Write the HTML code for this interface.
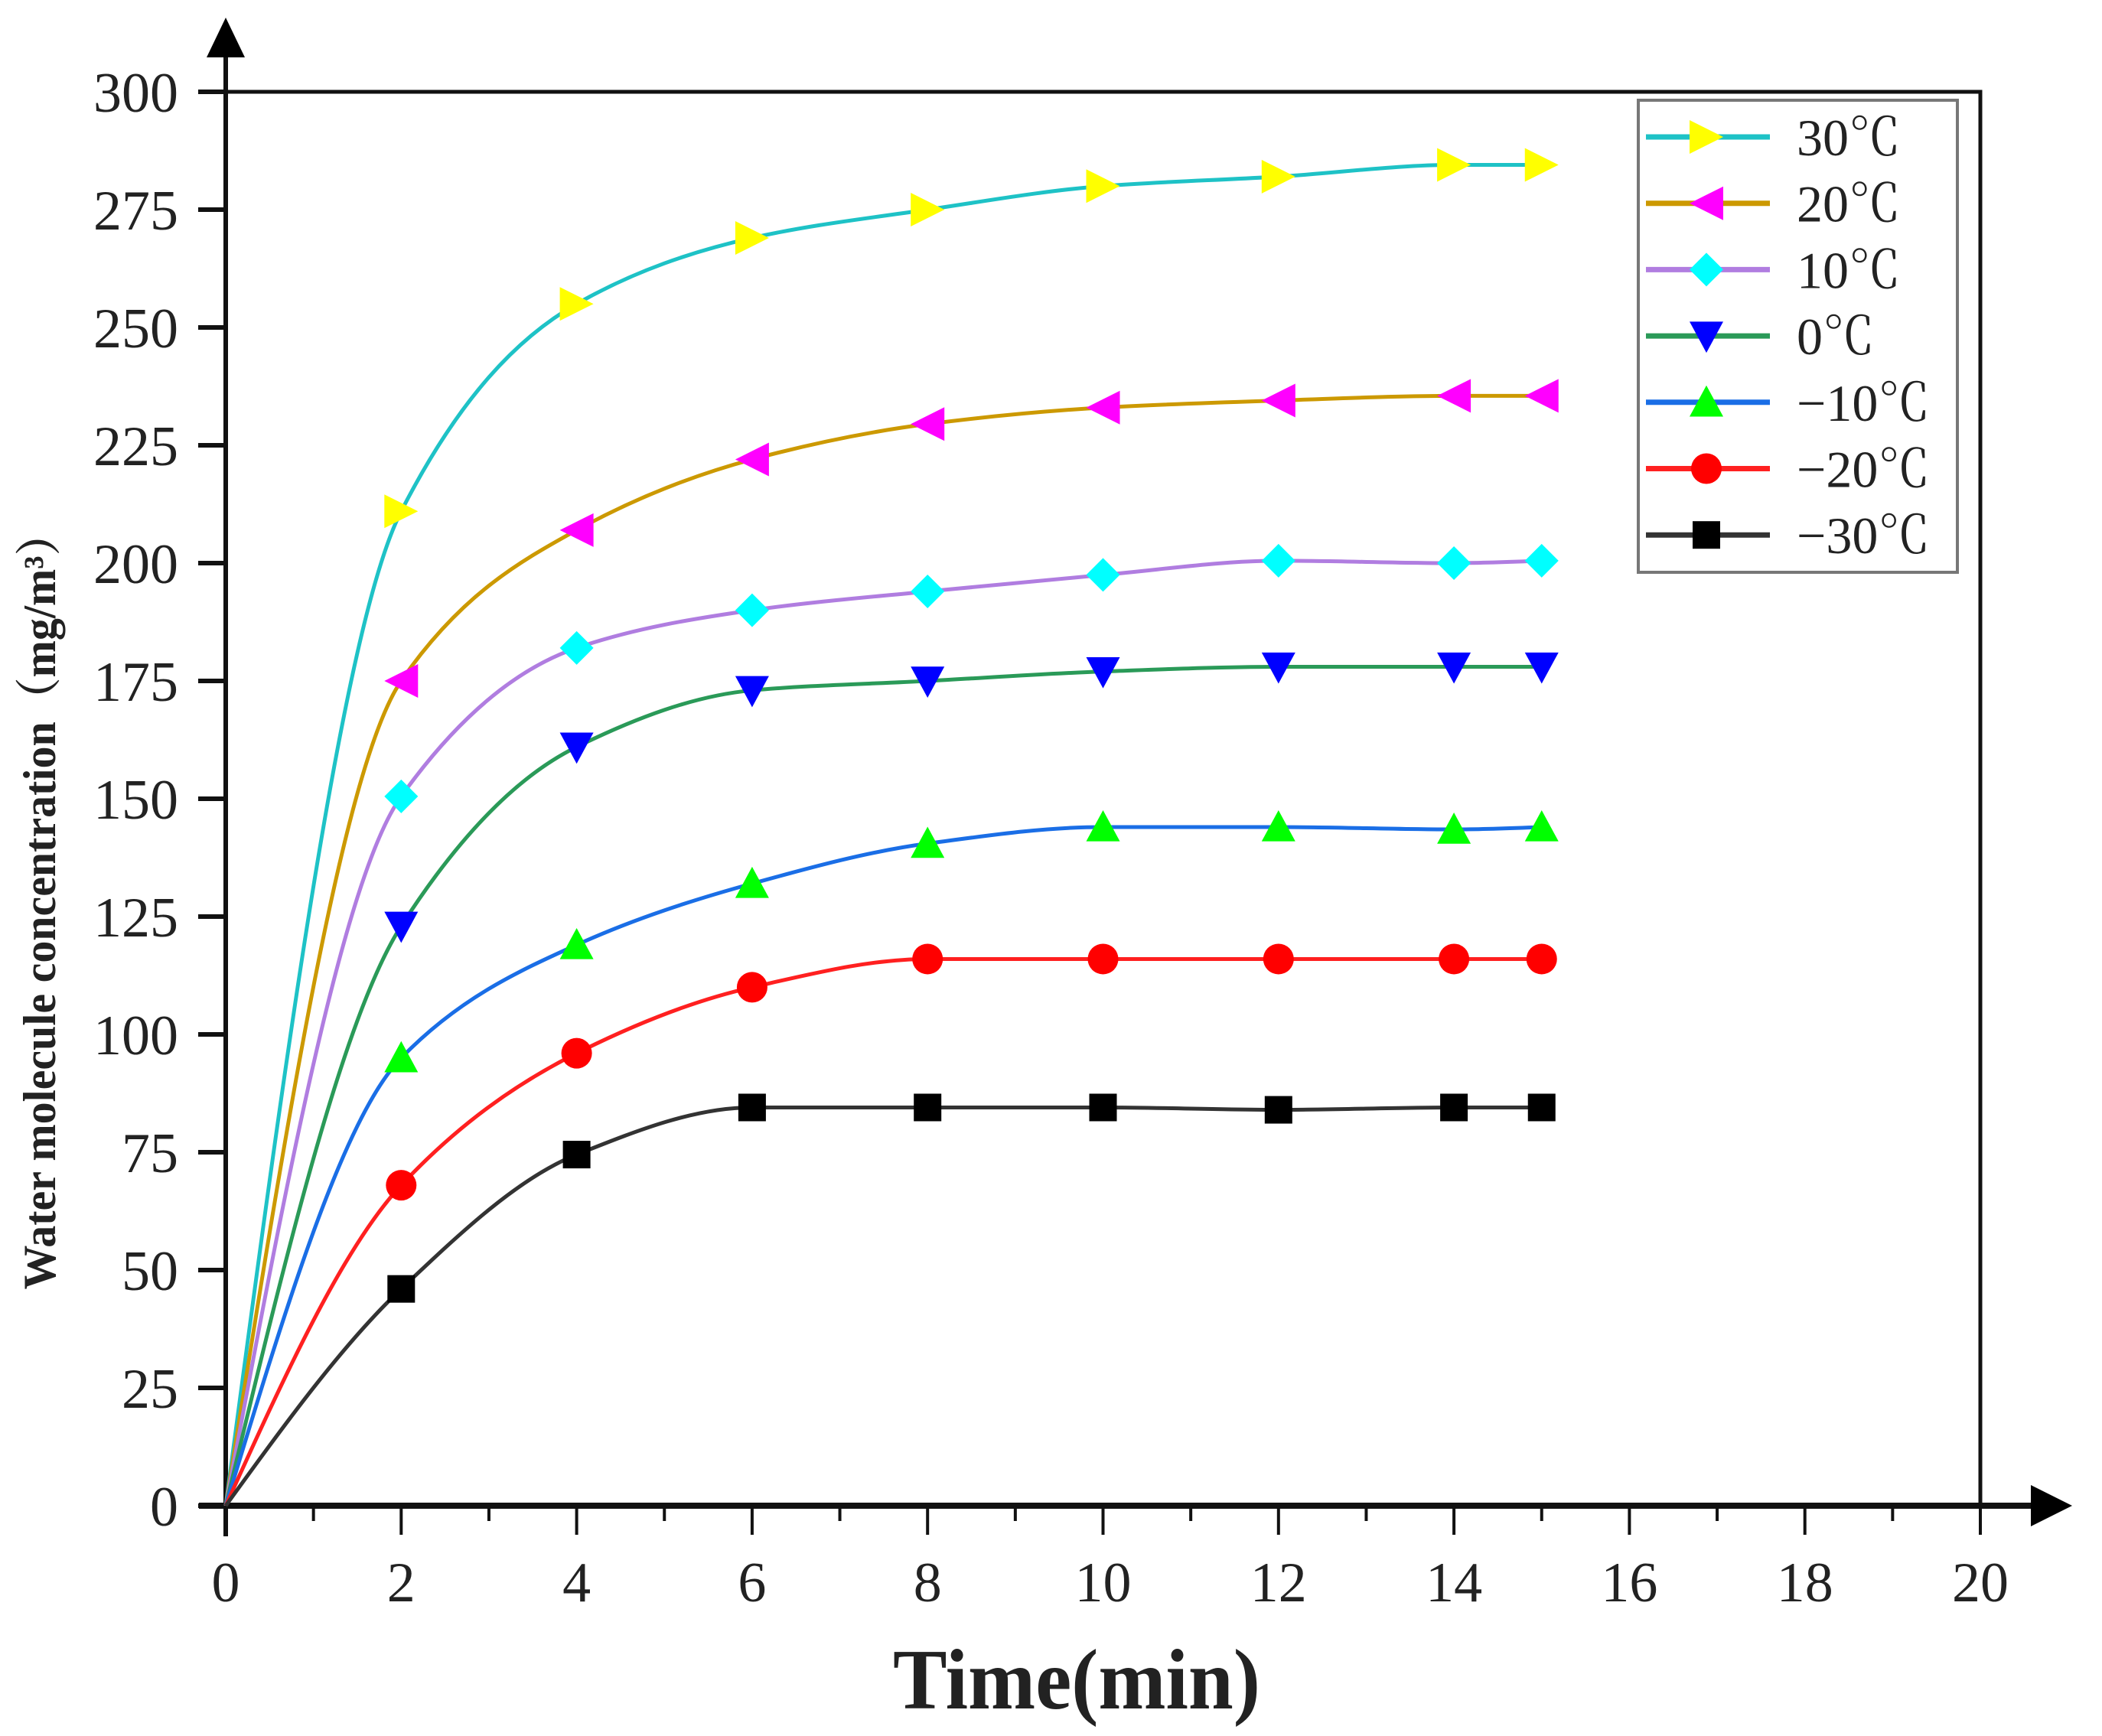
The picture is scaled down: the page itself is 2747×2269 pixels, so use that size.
<!DOCTYPE html>
<html><head><meta charset="utf-8"><style>
html,body{margin:0;padding:0;background:#fff;}
svg{display:block;}
text{font-family:"Liberation Serif","Noto Serif CJK SC",serif;fill:#222;}
</style></head><body>
<svg id="chart" width="2747" height="2269" viewBox="0 0 2747 2269" xmlns="http://www.w3.org/2000/svg">
<g id="axes"></g>
<g id="series"></g>
<g id="legend"></g>
</svg>
<script>
const xTimes = [0, 2, 4, 6, 8, 10, 12, 14, 15];
const s30 = [0, 211, 255, 269, 275, 280, 282, 284.5, 284.5];
const s20 = [0, 175, 207, 222, 229.5, 233, 234.5, 235.5, 235.5];
const s10 = [0, 150.5, 182, 190, 194, 197.5, 200.5, 200, 200.5];
const s0 = [0, 123, 161, 173, 175, 177, 178, 178, 178];
const sm10 = [0, 95, 119, 132, 140.5, 144, 144, 143.5, 144];
const sm20 = [0, 68, 96, 110, 116, 116, 116, 116, 116];
const sm30 = [0, 46, 74.5, 84.5, 84.5, 84.5, 84, 84.5, 84.5];
const seriesLabels = ["30℃", "20℃", "10℃", "0℃", "−10℃", "−20℃", "−30℃"];
const xTickLabels = ["0","2","4","6","8","10","12","14","16","18","20"];
const yTickLabels = ["0","25","50","75","100","125","150","175","200","225","250","275","300"];

const NS = "http://www.w3.org/2000/svg";
const X0 = 295, X1 = 2588, Y0 = 1968, Y1 = 120;
function sx(v){ return X0 + (v/20)*(X1-X0); }
function sy(v){ return Y0 - (v/300)*(Y0-Y1); }
function mk(tag, attrs, parent){
  const e = document.createElementNS(NS, tag);
  for (const k in attrs) e.setAttribute(k, attrs[k]);
  parent.appendChild(e); return e;
}
const axes = document.getElementById('axes');
const seriesG = document.getElementById('series');
const legend = document.getElementById('legend');

let fr = mk('path', {d:`M${X0} ${Y1} H${X1} V${Y0}`, stroke:'#111', 'stroke-width':5, fill:'none'}, axes);


let ya = mk('line', {x1:X0, y1:Y0+40, x2:X0, y2:60, stroke:'#111', 'stroke-width':6}, axes);


let yar = mk('polygon', {points:`${X0},23 ${X0-25},75 ${X0+25},75`, fill:'#000'}, axes);


let xa = mk('line', {x1:X0-35, y1:Y0, x2:2670, y2:Y0, stroke:'#111', 'stroke-width':8}, axes);


let xar = mk('polygon', {points:`2708,${Y0} 2654,${Y0-27} 2654,${Y0+27}`, fill:'#000'}, axes);



for (let i=0;i<=20;i++){
  const major = i%2===0;
  let t = mk('line', {x1:sx(i), y1:Y0, x2:sx(i), y2:Y0+(major?38:20), stroke:'#111', 'stroke-width':4}, axes);
  
  
}
xTickLabels.forEach((lab)=>{
  let t = mk('text', {x:sx(+lab), y:2093, 'font-size':74, 'text-anchor':'middle'}, axes);
  t.textContent = lab;
  
  
});
yTickLabels.forEach((lab)=>{
  const v = +lab;
  let t = mk('line', {x1:X0-36, y1:sy(v), x2:X0, y2:sy(v), stroke:'#111', 'stroke-width':6}, axes);
  
  
  let tl = mk('text', {x:233, y:sy(v)+26, 'font-size':74, 'text-anchor':'end'}, axes);
  tl.textContent = lab;
  
  
});
let xt = mk('text', {x:1407, y:2233, 'font-size':112, 'text-anchor':'middle', 'font-weight':'bold', textLength:480, lengthAdjust:'spacingAndGlyphs'}, axes);
xt.textContent = 'Time(min)';


let yt = mk('text', {x:0, y:0, 'font-size':60, 'text-anchor':'middle', 'font-weight':'bold', textLength:1017, lengthAdjust:'spacingAndGlyphs', transform:'translate(72,1177) rotate(-90)'}, axes);
yt.textContent = 'Water molecule concentration（mg/m³）';



const defs = [
  {vals:s30, line:'#1ec2c6', fill:'#ffff00', m:'right'},
  {vals:s20, line:'#cc9900', fill:'#ff00ff', m:'left'},
  {vals:s10, line:'#b07de0', fill:'#00ffff', m:'diamond'},
  {vals:s0, line:'#2a9a58', fill:'#0000ff', m:'down'},
  {vals:sm10, line:'#1a6ee6', fill:'#00ff00', m:'up'},
  {vals:sm20, line:'#ff2020', fill:'#ff0000', m:'circle'},
  {vals:sm30, line:'#333333', fill:'#000000', m:'square'}
];
function marker(type, x, y, fill, parent){
  const r = 22; let e;
  if (type==='circle') e = mk('circle', {cx:x, cy:y, r:20, fill}, parent);
  else if (type==='square') e = mk('rect', {x:x-18, y:y-18, width:36, height:36, fill}, parent);
  else {
    let p;
    if (type==='right') p = [[x+r,y],[x-r,y-r],[x-r,y+r]];
    if (type==='left') p = [[x-r,y],[x+r,y-r],[x+r,y+r]];
    if (type==='up') p = [[x,y-r],[x-r,y+r*0.85],[x+r,y+r*0.85]];
    if (type==='down') p = [[x,y+r],[x-r,y-r*0.85],[x+r,y-r*0.85]];
    if (type==='diamond') p = [[x,y-r],[x+r,y],[x,y+r],[x-r,y]];
    e = mk('polygon', {points:p.map(q=>q.join(',')).join(' '), fill}, parent);
  }
  return e;
}
// monotone (Fritsch-Butland) cubic Hermite interpolation
function monoPath(xs, ys){
  const n = xs.length, h=[], s=[], m=[];
  for (let i=0;i<n-1;i++){ h.push(xs[i+1]-xs[i]); s.push((ys[i+1]-ys[i])/h[i]); }
  for (let i=1;i<n-1;i++){
    if (s[i-1]*s[i] <= 0) m[i] = 0;
    else { const w1 = 2*h[i]+h[i-1], w2 = h[i]+2*h[i-1]; m[i] = (w1+w2)/(w1/s[i-1]+w2/s[i]); }
  }
  m[0] = (3*s[0]-m[1])/2; if (m[0]*s[0] < 0) m[0] = 0;
  m[n-1] = (3*s[n-2]-m[n-2])/2; if (m[n-1]*s[n-2] <= 0) m[n-1] = 0;
  let d = `M${sx(xs[0])} ${sy(ys[0])}`;
  for (let i=0;i<n-1;i++){
    const c1x = xs[i]+h[i]/3, c1y = ys[i]+m[i]*h[i]/3;
    const c2x = xs[i+1]-h[i]/3, c2y = ys[i+1]-m[i+1]*h[i]/3;
    d += ` C${sx(c1x)} ${sy(c1y)} ${sx(c2x)} ${sy(c2y)} ${sx(xs[i+1])} ${sy(ys[i+1])}`;
  }
  return d;
}
defs.forEach((s, si)=>{
  const g = mk('g', {}, seriesG);
  
  
  let ln = mk('path', {d:monoPath(xTimes, s.vals), stroke:s.line, 'stroke-width':5, fill:'none', 'stroke-linejoin':'round'}, g);
  
  
  xTimes.forEach((t,i)=>{
    if (i===0) return;
    const m = marker(s.m, sx(t), sy(s.vals[i]), s.fill, g);
    
    
  });
  const ly = 179 + si*86.7;
  const lg = mk('g', {}, legend);
  
  
  mk('line', {x1:2151, y1:ly, x2:2313, y2:ly, stroke:s.line, 'stroke-width':7}, lg);
  marker(s.m, 2230, ly, s.fill, lg);
  const lt = mk('text', {x:2348, y:ly+24, 'font-size':68}, lg);
  lt.textContent = seriesLabels[si];
});
let lb = mk('rect', {x:2141, y:131, width:417, height:617, fill:'none', stroke:'#777', 'stroke-width':4}, legend);


</script>
</body></html>
